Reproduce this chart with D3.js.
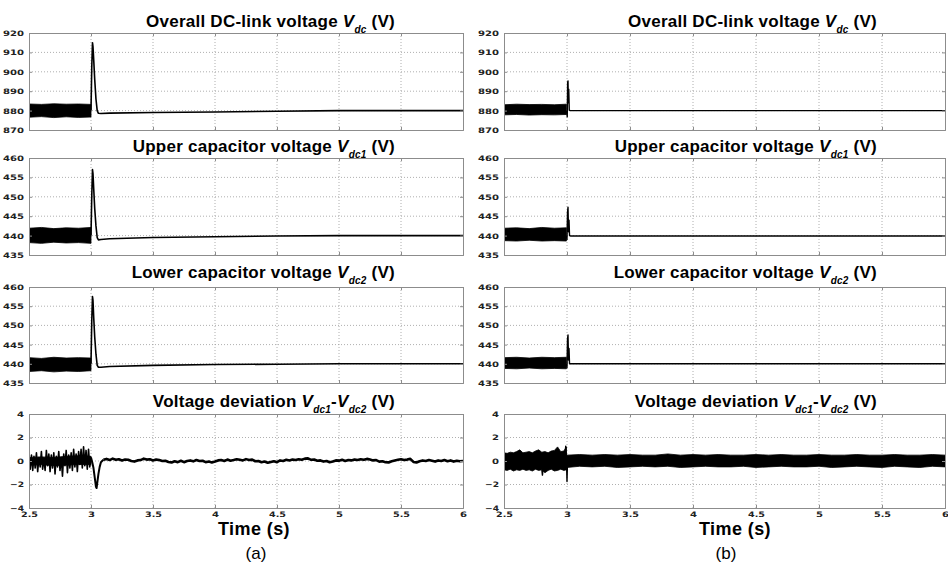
<!DOCTYPE html>
<html><head><meta charset="utf-8">
<script src="https://cdn.jsdelivr.net/npm/d3@7"></script>
<style>body{margin:0;background:#fff}svg{display:block}</style>
</head><body>
<svg id="c" width="948" height="564"></svg>
<script>
// ---------------- tick labels ----------------
const timeTicks = [2.5, 3, 3.5, 4, 4.5, 5, 5.5, 6];
const vdcTicks = [870, 880, 890, 900, 910, 920];
const capTicks = [435, 440, 445, 450, 455, 460];
const devTicks = [-4, -2, 0, 2, 4];
const panelLabels = ["(a)", "(b)"];
const xTitle = "Time (s)";

// ---------------- (a) overall DC-link voltage ----------------
const aVdcBandT  = [2.5, 2.6, 2.7, 2.8, 2.9, 3.0];
const aVdcBandLo = [876.6, 876.9, 876.4, 876.8, 876.5, 876.7];
const aVdcBandHi = [883.4, 883.2, 883.5, 883.3, 883.4, 883.2];
const aVdcT = [3.0, 3.006, 3.012, 3.016, 3.022, 3.03, 3.04, 3.05, 3.06, 3.08, 3.15, 3.5, 4.0, 4.5, 5.0, 5.5, 6.0];
const aVdcV = [880, 902, 915, 913, 906, 896, 886, 880, 878.6, 878.5, 878.7, 879.0, 879.3, 879.7, 880.0, 880.0, 880.0];

// ---------------- (a) upper capacitor ----------------
const aVdc1BandT  = [2.5, 2.6, 2.7, 2.8, 2.9, 3.0];
const aVdc1BandLo = [438.2, 438.0, 438.3, 438.1, 438.2, 438.0];
const aVdc1BandHi = [441.9, 442.1, 441.8, 442.0, 441.9, 442.1];
const aVdc1T = [3.0, 3.006, 3.012, 3.016, 3.022, 3.03, 3.04, 3.05, 3.06, 3.08, 3.15, 3.5, 4.0, 4.5, 5.0, 6.0];
const aVdc1V = [440, 450, 457, 456, 452, 447, 442.5, 439.5, 438.9, 439.0, 439.2, 439.5, 439.7, 439.9, 440, 440];

// ---------------- (a) lower capacitor ----------------
const aVdc2BandT  = [2.5, 2.6, 2.7, 2.8, 2.9, 3.0];
const aVdc2BandLo = [438.0, 438.2, 437.9, 438.1, 438.0, 438.2];
const aVdc2BandHi = [441.6, 441.4, 441.7, 441.5, 441.6, 441.5];
const aVdc2T = [3.0, 3.006, 3.012, 3.016, 3.022, 3.03, 3.04, 3.05, 3.06, 3.08, 3.15, 3.5, 4.0, 4.5, 5.0, 6.0];
const aVdc2V = [440, 451, 457.5, 456.5, 452, 447, 442.5, 439.6, 439.1, 439.1, 439.3, 439.6, 439.8, 439.9, 440, 440];

// ---------------- (a) voltage deviation ----------------
const aDevCoreT  = [2.5, 2.6, 2.7, 2.8, 2.9, 3.0];
const aDevCoreLo = [-0.35, -0.3, -0.4, -0.35, -0.3, -0.3];
const aDevCoreHi = [0.3, 0.35, 0.3, 0.4, 0.45, 0.4];
const aDevNoiseT = [2.50,2.51,2.52,2.53,2.54,2.55,2.56,2.57,2.58,2.59,2.60,2.61,2.62,2.63,2.64,2.65,2.66,2.67,2.68,2.69,2.70,2.71,2.72,2.73,2.74,2.75,2.76,2.77,2.78,2.79,2.80,2.81,2.82,2.83,2.84,2.85,2.86,2.87,2.88,2.89,2.90,2.91,2.92,2.93,2.94,2.95,2.96,2.97,2.98,2.99,3.00];
const aDevNoiseV = [0.6,-0.7,0.5,-0.8,0.4,-0.6,0.7,-0.9,0.3,-0.5,0.8,-0.7,0.2,-0.8,0.9,-0.4,0.6,-0.9,0.5,-0.6,0.7,-1.1,0.4,-0.5,0.8,-0.8,0.3,-1.3,0.6,-0.4,0.9,-1.0,0.5,-0.6,0.7,-0.8,1.0,-0.5,0.6,-0.9,0.8,-0.3,1.0,-0.6,1.2,-0.4,0.9,-0.7,1.0,-0.5,0.3];
const aDevDipT = [3.00, 3.01, 3.02, 3.03, 3.04, 3.045, 3.05, 3.06, 3.07, 3.08, 3.10];
const aDevDipV = [0.3, -0.1, -0.6, -1.4, -2.2, -2.3, -1.9, -1.1, -0.5, -0.1, 0.1];
const aDevWobT = [3.10,3.125,3.15,3.175,3.20,3.225,3.25,3.275,3.30,3.325,3.35,3.375,3.40,3.425,3.45,3.475,3.50,3.525,3.55,3.575,3.60,3.625,3.65,3.675,3.70,3.725,3.75,3.775,3.80,3.825,3.85,3.875,3.90,3.925,3.95,3.975,4.00,4.025,4.05,4.075,4.10,4.125,4.15,4.175,4.20,4.225,4.25,4.275,4.30,4.325,4.35,4.375,4.40,4.425,4.45,4.475,4.50,4.525,4.55,4.575,4.60,4.625,4.65,4.675,4.70,4.725,4.75,4.775,4.80,4.825,4.85,4.875,4.90,4.925,4.95,4.975,5.00,5.025,5.05,5.075,5.10,5.125,5.15,5.175,5.20,5.225,5.25,5.275,5.30,5.325,5.35,5.375,5.40,5.425,5.45,5.475,5.50,5.525,5.55,5.575,5.60,5.625,5.65,5.675,5.70,5.725,5.75,5.775,5.80,5.825,5.85,5.875,5.90,5.925,5.95,5.975,6.00];
const aDevWobV = [0.1,0.18,0.08,0.2,0.1,0.15,0.05,0.12,0.1,0.0,-0.05,0.05,0.08,0.2,0.12,0.15,0.05,0.12,0.08,0.0,0.02,-0.08,-0.12,-0.02,-0.1,0.02,-0.1,0.0,0.05,-0.03,0.08,0.0,0.02,-0.1,-0.05,-0.12,-0.05,0.05,0.08,0.0,0.12,0.02,0.08,0.15,0.1,0.05,0.16,0.08,0.12,-0.02,0.0,-0.1,-0.05,-0.15,-0.08,-0.02,-0.1,0.05,0.0,0.1,0.05,0.12,0.08,0.15,0.1,0.2,0.22,0.1,0.12,0.02,0.05,-0.05,0.0,-0.1,-0.05,0.05,0.03,0.1,0.0,0.08,0.05,0.12,0.08,0.15,0.1,0.18,0.12,0.05,0.08,-0.05,-0.02,-0.1,-0.12,-0.02,0.05,0.1,0.15,0.08,0.12,0.18,-0.08,-0.12,-0.02,0.05,0.0,0.08,0.02,-0.05,0.05,0.0,0.08,-0.02,0.05,-0.05,0.02,-0.02,0.0];

// ---------------- (b) overall DC-link voltage ----------------
const bVdcBandT  = [2.5, 2.6, 2.7, 2.8, 2.9, 2.995];
const bVdcBandLo = [877.8, 878.0, 877.7, 877.9, 877.8, 878.0];
const bVdcBandHi = [883.0, 883.3, 883.1, 883.2, 883.0, 883.3];
const bVdcT = [2.995, 3.0, 3.002, 3.005, 3.008, 3.011, 3.014, 3.018, 3.025, 3.1, 4.0, 5.0, 6.0];
const bVdcV = [880, 878, 876.8, 894.5, 895.3, 884, 891, 880.2, 880, 880, 880, 880, 880];

// ---------------- (b) upper capacitor ----------------
const bVdc1BandT  = [2.5, 2.6, 2.7, 2.8, 2.9, 2.995];
const bVdc1BandLo = [438.7, 438.6, 438.8, 438.6, 438.7, 438.6];
const bVdc1BandHi = [441.9, 442.0, 441.8, 442.1, 441.9, 442.0];
const bVdc1T = [2.995, 3.0, 3.004, 3.008, 3.012, 3.016, 3.02, 3.03, 4.0, 5.0, 6.0];
const bVdc1V = [440, 439, 446, 447.3, 441, 444, 440, 439.9, 439.9, 439.9, 439.9];

// ---------------- (b) lower capacitor ----------------
const bVdc2BandT  = [2.5, 2.6, 2.7, 2.8, 2.9, 2.995];
const bVdc2BandLo = [438.8, 438.7, 438.9, 438.7, 438.8, 438.7];
const bVdc2BandHi = [441.6, 441.7, 441.5, 441.7, 441.6, 441.7];
const bVdc2T = [2.995, 3.0, 3.004, 3.008, 3.012, 3.016, 3.02, 3.03, 4.0, 5.0, 6.0];
const bVdc2V = [440, 439, 446.5, 447.5, 441, 444, 440, 440, 440, 440, 440];

// ---------------- (b) voltage deviation ----------------
const bDevPreT  = [2.500,2.525,2.550,2.575,2.600,2.625,2.650,2.675,2.700,2.725,2.750,2.775,2.800,2.825,2.850,2.875,2.900,2.925,2.950,2.975,2.995];
const bDevPreLo = [-0.75,-0.8,-0.7,-0.85,-0.75,-0.8,-0.7,-0.8,-0.75,-0.85,-0.7,-0.8,-0.75,-1.0,-0.8,-0.7,-0.85,-0.8,-0.7,-0.8,-0.75];
const bDevPreHi = [0.7,0.65,0.75,0.7,0.8,0.95,0.7,0.75,0.8,0.7,0.85,0.95,0.75,0.8,0.7,0.85,0.9,1.2,0.8,0.85,1.2];
const bDevSpikeT = [2.80, 2.805, 2.81, 2.985, 2.99, 2.995, 3.0, 3.005];
const bDevSpikeV = [-0.7, -1.2, -0.7, 0.6, 1.25, 0.4, -1.75, 0.3];
const bDevPostT  = [3.0,3.1,3.2,3.3,3.4,3.5,3.6,3.7,3.8,3.9,4.0,4.1,4.2,4.3,4.4,4.5,4.6,4.7,4.8,4.9,5.0,5.1,5.2,5.3,5.4,5.5,5.6,5.7,5.8,5.9,6.0];
const bDevPostLo = [-0.55,-0.45,-0.5,-0.45,-0.55,-0.5,-0.45,-0.5,-0.45,-0.55,-0.5,-0.45,-0.5,-0.5,-0.45,-0.55,-0.5,-0.45,-0.5,-0.5,-0.45,-0.55,-0.5,-0.45,-0.5,-0.55,-0.45,-0.5,-0.55,-0.45,-0.5];
const bDevPostHi = [0.5,0.55,0.5,0.55,0.5,0.55,0.5,0.5,0.6,0.5,0.55,0.5,0.55,0.5,0.5,0.55,0.5,0.55,0.5,0.5,0.55,0.5,0.5,0.55,0.5,0.5,0.55,0.5,0.5,0.55,0.5];

// ---------------- titles ----------------
const titleParts = [
  [["Overall DC-link voltage ", "n"], ["V", "i"], ["dc", "s"], [" (V)", "r"]],
  [["Upper capacitor voltage ", "n"], ["V", "i"], ["dc1", "s"], [" (V)", "r"]],
  [["Lower capacitor voltage ", "n"], ["V", "i"], ["dc2", "s"], [" (V)", "r"]],
  [["Voltage deviation ", "n"], ["V", "i"], ["dc1", "s"], ["-", "r"], ["V", "i"], ["dc2", "s"], [" (V)", "r"]]
];

// ---------------- layout ----------------
const svg = d3.select("#c");
const panels = [
  {x0: 29, x1: 463, titleEnd: 395, xTitleX: 254, labelX: 256},
  {x0: 504, x1: 945, titleEnd: 877, xTitleX: 735, labelX: 726}
];
const rows = [
  {top: 33, bottom: 130, titleY: 27, ticks: vdcTicks},
  {top: 158, bottom: 255, titleY: 152, ticks: capTicks},
  {top: 287, bottom: 383, titleY: 278, ticks: capTicks},
  {top: 414, bottom: 508, titleY: 407, ticks: devTicks}
];

const pts = (t, v) => t.map((d, i) => [d, v[i]]);
const bnd = (t, lo, hi) => t.map((d, i) => [d, lo[i], hi[i]]);

const plots = [
  {p: 0, r: 0, bands: [bnd(aVdcBandT, aVdcBandLo, aVdcBandHi)], lines: [{d: pts(aVdcT, aVdcV), w: 1.6}]},
  {p: 0, r: 1, bands: [bnd(aVdc1BandT, aVdc1BandLo, aVdc1BandHi)], lines: [{d: pts(aVdc1T, aVdc1V), w: 1.6}]},
  {p: 0, r: 2, bands: [bnd(aVdc2BandT, aVdc2BandLo, aVdc2BandHi)], lines: [{d: pts(aVdc2T, aVdc2V), w: 1.6}]},
  {p: 0, r: 3, bands: [bnd(aDevCoreT, aDevCoreLo, aDevCoreHi)], lines: [{d: pts(aDevNoiseT, aDevNoiseV), w: 1.6}, {d: pts(aDevDipT, aDevDipV), w: 2}, {d: pts(aDevWobT, aDevWobV), w: 2.6}]},
  {p: 1, r: 0, bands: [bnd(bVdcBandT, bVdcBandLo, bVdcBandHi)], lines: [{d: pts(bVdcT, bVdcV), w: 1.4}]},
  {p: 1, r: 1, bands: [bnd(bVdc1BandT, bVdc1BandLo, bVdc1BandHi)], lines: [{d: pts(bVdc1T, bVdc1V), w: 1.4}]},
  {p: 1, r: 2, bands: [bnd(bVdc2BandT, bVdc2BandLo, bVdc2BandHi)], lines: [{d: pts(bVdc2T, bVdc2V), w: 1.4}]},
  {p: 1, r: 3, bands: [bnd(bDevPreT, bDevPreLo, bDevPreHi), bnd(bDevPostT, bDevPostLo, bDevPostHi)], lines: [{d: pts(bDevSpikeT, bDevSpikeV), w: 1.4}]}
];

const tickW = s => s.split("").reduce((a, c) => a + (c === "." ? 3 : c === "-" ? 5.5 : 7), 0);

plots.forEach(pl => {
  const P = panels[pl.p], R = rows[pl.r];
  const x = d3.scaleLinear().domain([2.5, 6]).range([P.x0, P.x1]);
  const y = d3.scaleLinear().domain(d3.extent(R.ticks)).range([R.bottom, R.top]);
  const g = svg.append("g");

  // grid
  g.selectAll(".gx").data(timeTicks.slice(1, -1)).join("line")
    .attr("x1", d => x(d)).attr("x2", d => x(d)).attr("y1", R.top).attr("y2", R.bottom)
    .attr("stroke", "#9a9a9a").attr("stroke-width", 0.8).attr("stroke-dasharray", "1,2");
  g.selectAll(".gy").data(R.ticks.slice(1, -1)).join("line")
    .attr("x1", P.x0).attr("x2", P.x1).attr("y1", d => y(d)).attr("y2", d => y(d))
    .attr("stroke", "#9a9a9a").attr("stroke-width", 0.8).attr("stroke-dasharray", "1,2");

  // data
  const clipId = `clip${pl.p}${pl.r}`;
  svg.append("clipPath").attr("id", clipId).append("rect")
    .attr("x", P.x0).attr("y", R.top).attr("width", P.x1 - P.x0).attr("height", R.bottom - R.top);
  const dg = g.append("g").attr("clip-path", `url(#${clipId})`);
  const area = d3.area().x(d => x(d[0])).y0(d => y(d[1])).y1(d => y(d[2]));
  pl.bands.forEach(b => dg.append("path").attr("d", area(b)).attr("fill", "#000")
    .attr("stroke", "#000").attr("stroke-width", 0.8));
  const line = d3.line().x(d => x(d[0])).y(d => y(d[1]));
  pl.lines.forEach(l => dg.append("path").attr("d", line(l.d)).attr("fill", "none")
    .attr("stroke", "#000").attr("stroke-width", l.w).attr("stroke-linejoin", "round"));

  // axes
  const xa = g.append("g").attr("transform", `translate(0,${R.bottom})`)
    .call(d3.axisBottom(x).tickValues(timeTicks).tickSize(-3).tickPadding(4).tickFormat(d3.format("")));
  const xa2 = g.append("g").attr("transform", `translate(0,${R.top})`)
    .call(d3.axisTop(x).tickValues(timeTicks).tickSize(-3).tickFormat(""));
  const ya = g.append("g").attr("transform", `translate(${P.x0},0)`)
    .call(d3.axisLeft(y).tickValues(R.ticks).tickSize(-3).tickPadding(5).tickFormat(d3.format("")));
  const ya2 = g.append("g").attr("transform", `translate(${P.x1},0)`)
    .call(d3.axisRight(y).tickValues(R.ticks).tickSize(-3).tickFormat(""));
  [xa, xa2, ya, ya2].forEach(a => {
    a.select(".domain").attr("stroke", "#8c8c8c").attr("stroke-width", 1);
    a.selectAll(".tick line").attr("stroke", "#8c8c8c");
  });
  if (pl.r !== 3) xa.selectAll("text").remove();
  [xa, ya].forEach(a => a.selectAll("text")
    .attr("font-family", "DejaVu Sans").attr("font-weight", "bold").attr("font-size", 7.5)
    .attr("fill", "#222")
    .attr("textLength", function () { return tickW(this.textContent); })
    .attr("lengthAdjust", "spacingAndGlyphs"));

  // title
  const tt = svg.append("text").attr("x", P.titleEnd).attr("y", R.titleY)
    .attr("text-anchor", "end").attr("font-family", "Liberation Sans, Arial, sans-serif")
    .attr("font-weight", "bold").attr("font-size", 17).attr("letter-spacing", 0.25).attr("fill", "#000");
  let sub = false;
  titleParts[pl.r].forEach(([s, k]) => {
    const ts = tt.append("tspan").text(s);
    if (k === "i") ts.attr("font-style", "italic");
    if (k === "s") { ts.attr("font-style", "italic").attr("font-size", 10).attr("dy", 6); sub = true; }
    else if (sub) { ts.attr("dy", -6); sub = false; }
  });
});

// x titles and panel labels
panels.forEach((P, i) => {
  svg.append("text").attr("x", P.xTitleX).attr("y", 535).attr("text-anchor", "middle")
    .attr("font-family", "Liberation Sans, Arial, sans-serif").attr("font-weight", "bold")
    .attr("font-size", 18).attr("letter-spacing", 0.4).text(xTitle);
  svg.append("text").attr("x", P.labelX).attr("y", 559).attr("text-anchor", "middle")
    .attr("font-family", "Liberation Sans, Arial, sans-serif")
    .attr("font-size", 17).text(panelLabels[i]);
});
</script>
</body></html>
